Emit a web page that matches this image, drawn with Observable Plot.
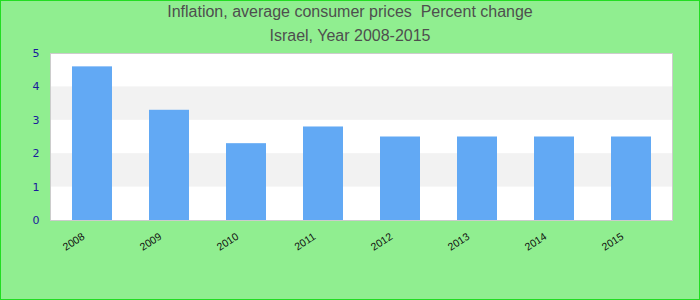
<!DOCTYPE html>
<html>
<head>
<meta charset="utf-8">
<script src="https://cdn.jsdelivr.net/npm/d3@7"></script>
<script src="https://cdn.jsdelivr.net/npm/@observablehq/plot@0.6"></script>
<style>
  html, body { margin: 0; padding: 0; background: #90EE90; }
  #wrap { position: relative; width: 700px; height: 300px; background: #90EE90; overflow: hidden; }
  #border { position: absolute; left: 0; top: 0; width: 700px; height: 300px; box-sizing: border-box; border: 1px solid #22dd22; pointer-events: none; z-index: 5; }
  .title { position: absolute; left: 0; width: 700px; text-align: center; font-family: "Liberation Sans", Arial, sans-serif; font-size: 16px; color: #4e4e4e; z-index: 3; }
  #chart { position: absolute; left: 0; top: 0; }
</style>
</head>
<body>
<div id="wrap">
  <div class="title" style="top:3px">Inflation, average consumer prices&nbsp; Percent change</div>
  <div class="title" style="top:27px">Israel, Year 2008-2015</div>
  <div id="chart"></div>
  <div id="border"></div>
</div>
<script>
const years = ["2008", "2009", "2010", "2011", "2012", "2013", "2014", "2015"];
const values = [4.6, 3.3, 2.3, 2.8, 2.5, 2.5, 2.5, 2.5];
const yTicks = [0, 1, 2, 3, 4, 5];
const shadedBands = [[1, 2], [3, 4]];

const data = years.map((y, i) => ({year: y, value: values[i]}));
const bands = shadedBands.map(([a, b]) => ({y1: a, y2: b}));

const chart = Plot.plot({
  width: 700,
  height: 300,
  marginTop: 53,
  marginBottom: 80,
  marginLeft: 50,
  marginRight: 28,
  style: {background: "transparent", overflow: "visible"},
  x: {domain: years, paddingInner: 0.484, paddingOuter: 0.25, label: null},
  y: {domain: [0, 5], ticks: yTicks, label: null},
  marks: [
    Plot.frame({fill: "white"}),
    Plot.rect(bands, {y1: "y1", y2: "y2", fill: "#f2f2f2"}),
    Plot.barY(data, {x: "year", y: "value", fill: "#62a9f4"}),
    Plot.frame({stroke: "#cccccc", strokeWidth: 1}),
    Plot.axisY({ticks: yTicks, tickFormat: "d", tickSize: 0, tickPadding: 11, fontSize: 11, fontFamily: "DejaVu Sans", fill: "#1a1a9c", label: null}),
    Plot.axisX({tickSize: 0, tickRotate: -33, tickPadding: 15, dx: -9, fontSize: 10.5, fontFamily: "Liberation Sans", fill: "#111", label: null})
  ]
});
document.getElementById("chart").appendChild(chart);
</script>
</body>
</html>
